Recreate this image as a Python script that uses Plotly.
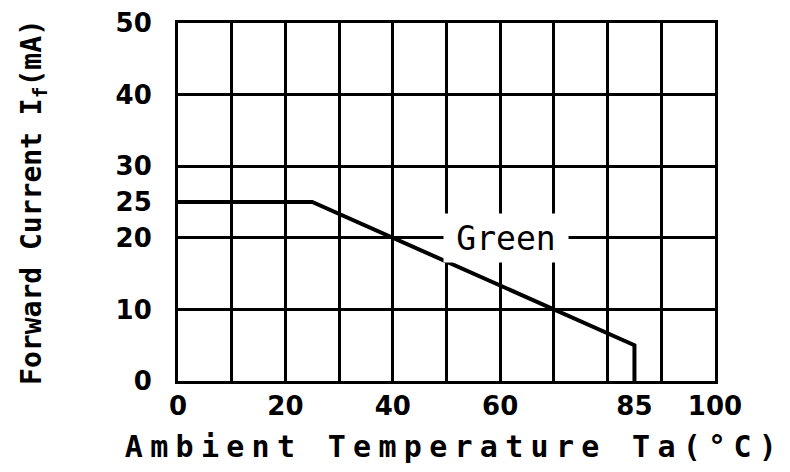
import plotly.graph_objects as go

# Data
temperature = [0, 25, 85, 85]
forward_current = [25, 25, 5, 0]
x_tick_vals = [0, 20, 40, 60, 85, 100]
y_tick_vals = [0, 10, 20, 25, 30, 40, 50]
series_label = "Green"
label_pos = (61, 20)

fig = go.Figure()
fig.add_trace(go.Scatter(
    x=temperature, y=forward_current, mode="lines",
    line=dict(color="black", width=4), showlegend=False, hoverinfo="skip",
))

fig.add_annotation(
    x=label_pos[0], y=label_pos[1], text=series_label, showarrow=False,
    font=dict(family="DejaVu Sans Mono", size=33, color="black"),
    bgcolor="white", width=120, height=44, borderpad=2,
)

tick_font = dict(family="DejaVu Sans", size=26, color="black", weight="bold")

fig.update_layout(
    width=790, height=472, autosize=False,
    margin=dict(l=178, r=75, t=23, b=91),
    paper_bgcolor="white", plot_bgcolor="white",
    xaxis=dict(
        range=[0, 100], tickvals=x_tick_vals, ticktext=[str(v) for v in x_tick_vals],
        showgrid=False, zeroline=False, automargin=False,
        showline=True, linecolor="black", linewidth=3, mirror=True,
        ticks="", tickfont=tick_font, ticklabelstandoff=0,
        minor=dict(tick0=0, dtick=10, showgrid=True, gridcolor="black", gridwidth=2.5, ticks=""),
        title=dict(text="Ambient Temperature Ta(°C)", standoff=16,
                   font=dict(family="DejaVu Sans Mono", size=30, color="black", weight="bold")),
    ),
    yaxis=dict(
        range=[0, 50], tickvals=y_tick_vals, ticktext=[str(v) for v in y_tick_vals],
        showgrid=False, zeroline=False, automargin=False,
        showline=True, linecolor="black", linewidth=3, mirror=True,
        ticks="", tickfont=tick_font, ticklabelstandoff=18,
        minor=dict(tick0=0, dtick=10, showgrid=True, gridcolor="black", gridwidth=2.5, ticks=""),
        title=dict(text="Forward Current I<sub>f</sub>(mA)", standoff=66,
                   font=dict(family="DejaVu Sans Mono", size=28, color="black", weight="bold")),
    ),
)

post = """
document.body.style.margin = '0';
var gd = document.getElementById('{plot_id}');
function ls(){
  gd.querySelectorAll('.g-xtitle text').forEach(function(t){
    t.setAttribute('letter-spacing','7.3px');
    t.setAttribute('dx','8');
  });
}
ls();
if (gd.on) { gd.on('plotly_afterplot', ls); }
"""

fig.write_html("out.html", post_script=post, config={"displayModeBar": False})
